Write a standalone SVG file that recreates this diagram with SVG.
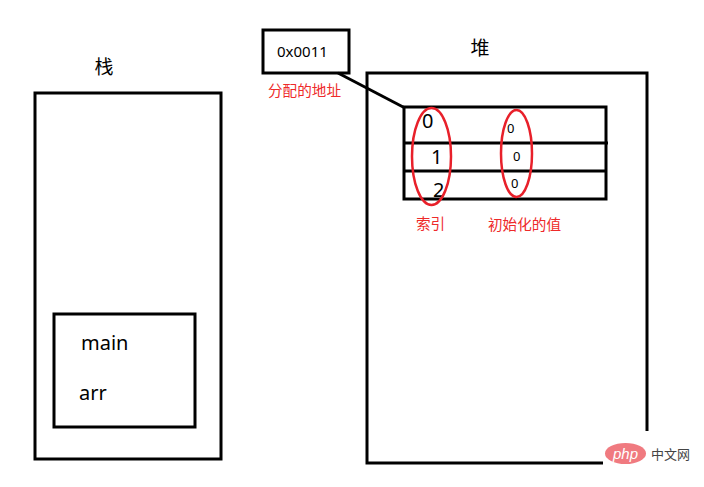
<svg xmlns="http://www.w3.org/2000/svg" width="704" height="487" viewBox="0 0 704 487">
<style>
.box{fill:none;stroke:#000;stroke-width:3}
.ln{stroke:#000;stroke-width:3;fill:none}
.ov{fill:none;stroke:#e8202a;stroke-width:2.5}
.t{font-family:"Noto Sans","Noto Sans CJK SC",sans-serif;fill:#000}
.r{font-family:"Noto Sans CJK SC",sans-serif;fill:#ee2a2a;font-size:14.6px}
.c{font-family:"Noto Sans CJK SC",sans-serif;fill:#000;font-size:19px}
</style>
<rect width="704" height="487" fill="#fff"/>
<g id="stack">
<rect class="box" x="35" y="93" width="186" height="366"/>
<text class="c" x="104" y="74" text-anchor="middle">栈</text>
</g>
<g id="main-frame">
<rect class="box" x="54" y="314" width="141" height="113"/>
<text class="t" x="81" y="350" font-size="20">main</text>
<text class="t" x="79" y="400" font-size="20">arr</text>
</g>
<g id="heap">
<path class="ln" d="M603,463 H367 V73 H647 V431"/>
<text class="c" x="480" y="55" text-anchor="middle">堆</text>
</g>
<g id="address">
<rect class="box" x="263" y="30" width="86" height="43"/>
<text class="t" x="277" y="57" font-size="15">0x0011</text>
<text class="r" x="268" y="96">分配的地址</text>
</g>
<g id="array">
<rect class="box" x="404" y="107" width="202" height="92"/>
<line class="ln" x1="404" y1="143" x2="608" y2="143"/>
<line class="ln" x1="403" y1="171" x2="606" y2="171"/>
<text class="t" x="422" y="128" font-size="20">0</text>
<text class="t" x="431" y="164" font-size="20">1</text>
<text class="t" x="433" y="197" font-size="20">2</text>
<text class="t" x="507" y="133" font-size="13">0</text>
<text class="t" x="513" y="161" font-size="13">0</text>
<text class="t" x="511" y="188" font-size="13">0</text>
<ellipse class="ov" cx="431.5" cy="156.5" rx="19.5" ry="48.5"/>
<ellipse class="ov" cx="516.5" cy="153.5" rx="15.5" ry="43.5"/>
<text class="r" x="416" y="229">索引</text>
<text class="r" x="488" y="230">初始化的值</text>
</g>
<g id="connectors">
<line class="ln" x1="338" y1="73" x2="405" y2="108"/>
</g>
<g id="watermark">
<ellipse cx="625.5" cy="453.5" rx="20.5" ry="10.5" fill="#f07a80"/>
<text x="625.5" y="459" text-anchor="middle" font-family="Liberation Sans,sans-serif" font-style="italic" font-size="15" fill="#fff">php</text>
<text x="651" y="459" font-family="Noto Sans CJK SC,sans-serif" font-size="13" fill="#444">中文网</text>
</g>
</svg>
